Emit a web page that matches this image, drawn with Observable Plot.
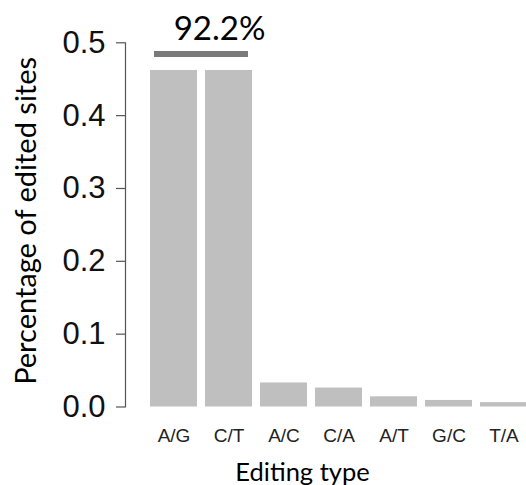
<!DOCTYPE html>
<html>
<head>
<meta charset="utf-8">
<script src="https://cdn.jsdelivr.net/npm/d3@7"></script>
<script src="https://cdn.jsdelivr.net/npm/@observablehq/plot@0.6"></script>
<style>
  html, body { margin: 0; padding: 0; background: #fff; overflow: hidden; }
</style>
</head>
<body>
<div id="chart"></div>
<script>
const categories = ["A/G", "C/T", "A/C", "C/A", "A/T", "G/C", "T/A"];
const values = [0.462, 0.462, 0.033, 0.026, 0.014, 0.009, 0.006];
const yTicks = [0, 0.1, 0.2, 0.3, 0.4, 0.5];
const bracketCats = ["A/G", "C/T"];
const bracketLabel = "92.2%";

const data = categories.map((c, i) => ({type: c, value: values[i]}));
const maxValue = d3.max(values);

const calibri = "Lato, 'Open Sans', sans-serif";

const chart = Plot.plot({
  width: 526,
  height: 485,
  marginTop: 42.3,
  marginBottom: 78.5,
  marginLeft: 125,
  marginRight: 0,
  style: {background: "#fff", overflow: "hidden", fontFamily: "'Liberation Sans', Arial, sans-serif"},
  x: {domain: categories, range: [139.65, 538], padding: 0.15},
  y: {domain: [0, 0.5]},
  marks: [
    Plot.barY(data, {x: "type", y: "value", fill: "#bfbfbf"}),
    Plot.frame({anchor: "left", stroke: "#555", strokeWidth: 1.2}),
    Plot.axisY({ticks: yTicks, tickFormat: d3.format(".1f"), tickSize: 9, tickPadding: 11, fontSize: 31, stroke: "#555", strokeWidth: 1.2, fill: "#111", label: null}),
    Plot.axisX({tickSize: 0, tickPadding: 21.7, fontSize: 19, fill: "#222", label: null}),
    Plot.ruleY([maxValue], {x1: () => bracketCats[0], x2: () => bracketCats[1], y: d => d, dy: -16.5, stroke: "#7a7a7a", strokeWidth: 6, insetLeft: 4, insetRight: 4}),
    Plot.text([bracketLabel], {x: () => bracketCats[1], y: () => maxValue, text: d => d, dx: -9.5, dy: -30.5, lineAnchor: "bottom", textAnchor: "middle", fontSize: 33, fontFamily: calibri, fill: "#000"}),
    Plot.text(["Percentage of edited sites"], {frameAnchor: "left", text: d => d, dx: -99, dy: -4, rotate: -90, textAnchor: "middle", lineAnchor: "middle", fontSize: 29, fontFamily: calibri, fill: "#000"}),
    Plot.text(["Editing type"], {frameAnchor: "bottom", text: d => d, dx: -23.5, dy: 73.5, textAnchor: "middle", lineAnchor: "bottom", fontSize: 25.5, fontFamily: calibri, fill: "#000"})
  ]
});
document.getElementById("chart").appendChild(chart);
</script>
</body>
</html>
